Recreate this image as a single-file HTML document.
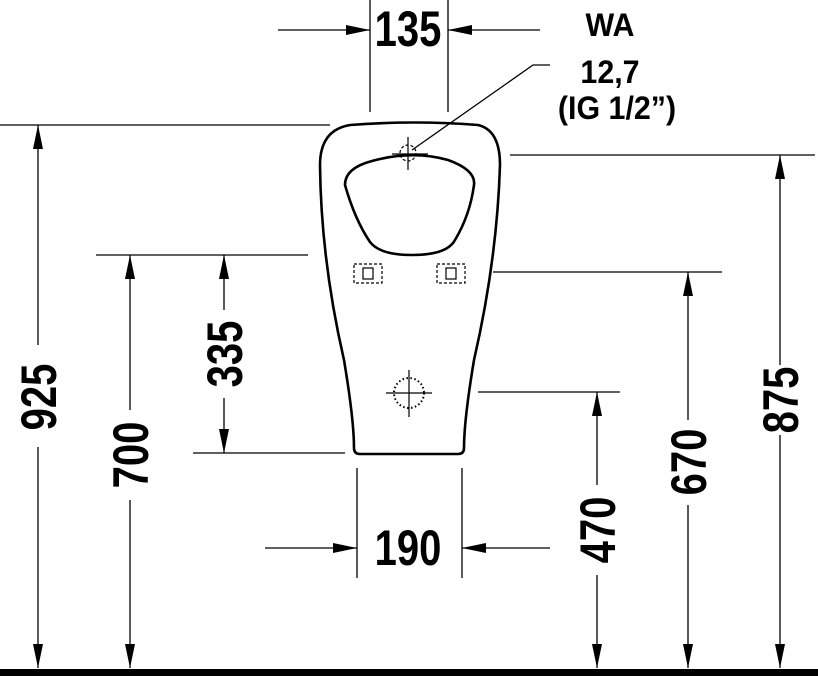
<!DOCTYPE html>
<html><head><meta charset="utf-8"><style>
html,body{margin:0;padding:0;background:#fff}
svg{display:block}
text{font-family:"Liberation Sans",sans-serif;font-weight:bold;fill:#000}
</style></head><body>
<svg width="818" height="676" viewBox="0 0 818 676" xmlns="http://www.w3.org/2000/svg">
<defs>
<marker id="a" viewBox="0 0 24 10" refX="24" refY="5" markerWidth="24" markerHeight="10" markerUnits="userSpaceOnUse" orient="auto"><path d="M0,0 L24,5 L0,10 Z" fill="#000"/></marker>
</defs>
<g stroke="#000" stroke-width="1.3" fill="none">
<line x1="0" y1="125" x2="330" y2="125"/>
<line x1="96" y1="255" x2="308" y2="255"/>
<line x1="193" y1="453" x2="345" y2="453"/>
<line x1="478" y1="392" x2="620" y2="392"/>
<line x1="493" y1="272" x2="722" y2="272"/>
<line x1="510" y1="155" x2="815" y2="155"/>
<line x1="370" y1="0" x2="370" y2="112"/>
<line x1="448" y1="0" x2="448" y2="112"/>
<line x1="357" y1="468" x2="357" y2="578"/>
<line x1="462" y1="468" x2="462" y2="578"/>
<line x1="38" y1="345" x2="38" y2="125" marker-end="url(#a)"/>
<line x1="38" y1="447" x2="38" y2="668" marker-end="url(#a)"/>
<line x1="130" y1="410" x2="130" y2="255" marker-end="url(#a)"/>
<line x1="130" y1="500" x2="130" y2="668" marker-end="url(#a)"/>
<line x1="224" y1="310" x2="224" y2="255" marker-end="url(#a)"/>
<line x1="224" y1="398" x2="224" y2="453" marker-end="url(#a)"/>
<line x1="597" y1="485" x2="597" y2="392" marker-end="url(#a)"/>
<line x1="597" y1="575" x2="597" y2="668" marker-end="url(#a)"/>
<line x1="688" y1="420" x2="688" y2="272" marker-end="url(#a)"/>
<line x1="688" y1="505" x2="688" y2="668" marker-end="url(#a)"/>
<line x1="780" y1="365" x2="780" y2="155" marker-end="url(#a)"/>
<line x1="780" y1="435" x2="780" y2="668" marker-end="url(#a)"/>
<line x1="278" y1="30" x2="370" y2="30" marker-end="url(#a)"/>
<line x1="540" y1="30" x2="448" y2="30" marker-end="url(#a)"/>
<line x1="265" y1="548" x2="357" y2="548" marker-end="url(#a)"/>
<line x1="550" y1="548" x2="462" y2="548" marker-end="url(#a)"/>
<polyline points="550,65 533,65 412,150"/>
</g>
<g stroke="#000" stroke-width="2.6" fill="none">
<path d="M350,125 Q415,120 478,125 Q500,130 500,165 Q497,260 474,360 Q464,420 464,448 Q464,454 458,454 L360,454 Q354,454 354,448 Q354,420 344,360 Q321,260 320,165 Q320,130 350,125 Z"/>
<path d="M372,161 Q412,150 448,160 Q476,170 474,185 Q470,215 455,240 Q447,255 412,255 Q380,255 370,242 Q355,220 345,185 Q345,168 372,161 Z"/>
</g>
<g stroke="#000" stroke-width="1.2" fill="none">
<line x1="392" y1="154" x2="428" y2="154"/>
<line x1="408" y1="137" x2="408" y2="170"/>
<circle cx="408" cy="153" r="8" stroke-dasharray="3,2"/>
<line x1="386" y1="393" x2="432" y2="393"/>
<line x1="409" y1="370" x2="409" y2="417"/>
<circle cx="409" cy="393" r="15" stroke-dasharray="1.5,2.5" stroke-width="2"/>
<rect x="354" y="264" width="28" height="19" stroke-dasharray="3,2"/>
<rect x="437" y="264" width="28" height="19" stroke-dasharray="3,2"/>
<rect x="363" y="268" width="10" height="11"/>
<rect x="446" y="268" width="10" height="11"/>
</g>
<rect x="0" y="669" width="818" height="7" fill="#000"/>
<g font-size="50">
<text transform="translate(38,397) rotate(-90) scale(0.8,1)" text-anchor="middle" dy="18">925</text>
<text transform="translate(130,455) rotate(-90) scale(0.8,1)" text-anchor="middle" dy="18">700</text>
<text transform="translate(224,354) rotate(-90) scale(0.8,1)" text-anchor="middle" dy="18">335</text>
<text transform="translate(597,530) rotate(-90) scale(0.8,1)" text-anchor="middle" dy="18">470</text>
<text transform="translate(688,462) rotate(-90) scale(0.8,1)" text-anchor="middle" dy="18">670</text>
<text transform="translate(780,400) rotate(-90) scale(0.8,1)" text-anchor="middle" dy="18">875</text>
<text transform="translate(408,28) scale(0.8,1)" text-anchor="middle" dy="18">135</text>
<text transform="translate(408,547) scale(0.8,1)" text-anchor="middle" dy="18">190</text>
</g>
<g font-size="32">
<text transform="translate(610,25) scale(0.95,1)" text-anchor="middle" dy="11">WA</text>
<text transform="translate(610,72) scale(0.95,1)" text-anchor="middle" dy="11">12,7</text>
<text transform="translate(617,108) scale(0.95,1)" text-anchor="middle" dy="11">(IG 1/2”)</text>
</g>
</svg>
</body></html>
